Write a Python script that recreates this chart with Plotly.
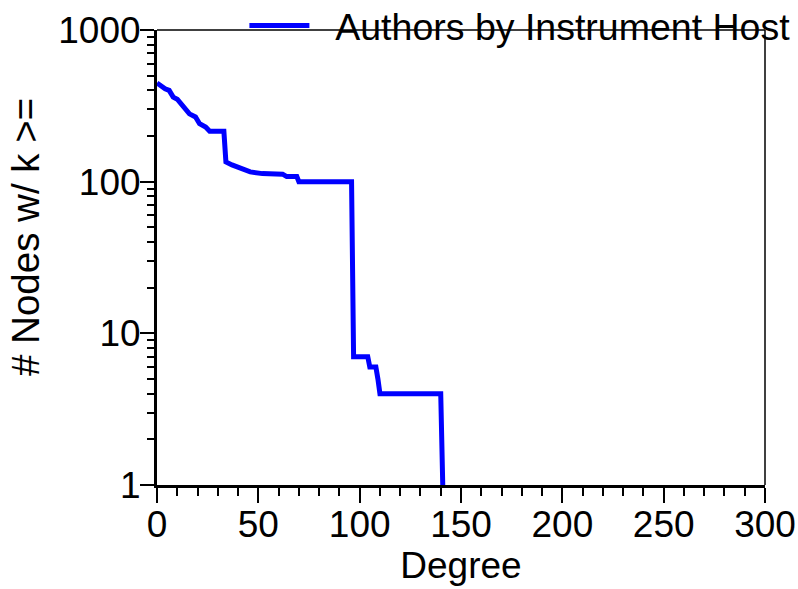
import plotly.graph_objects as go

# Cumulative degree distribution: number of nodes with degree >= k
degree = [0, 2, 4, 6, 8, 10, 12, 14, 16, 19, 21, 24, 26, 33, 34, 37, 41, 46, 52,
          62, 64, 69, 70, 96, 97, 104, 105, 108, 109, 110, 140, 141]
nodes = [447, 427, 410, 400, 361, 350, 326, 295, 280, 267, 241, 229, 215, 215,
         135, 129, 122, 116, 113, 112, 108, 108, 100, 100, 7, 7, 6, 6, 5, 4, 4, 1]

series_name = "Authors by Instrument Host"
x_ticks = [0, 50, 100, 150, 200, 250, 300]
y_ticks = [1, 10, 100, 1000]

FONT = "Liberation Sans, Arial, sans-serif"
FS = 37

fig = go.Figure()
fig.add_trace(go.Scatter(
    x=degree, y=nodes, mode="lines", name="\u00a0\u00a0" + series_name,
    line=dict(color="#0000FF", width=5),
))

fig.update_layout(
    width=798, height=589,
    margin=dict(l=157, r=33, t=30, b=104, autoexpand=False),
    paper_bgcolor="white", plot_bgcolor="white",
    font=dict(family=FONT, size=FS, color="black"),
    showlegend=True,
    legend=dict(
        x=1.05, y=1.078, xanchor="right", yanchor="top",
        bgcolor="rgba(0,0,0,0)", font=dict(size=37.5),
        itemwidth=60,
    ),
)

fig.update_xaxes(
    range=[0, 300], tickvals=x_ticks, ticktext=[str(v) for v in x_ticks],
    showgrid=False, zeroline=False,
    showline=True, linecolor="black", linewidth=3,
    ticks="outside", ticklen=15, tickwidth=2, tickcolor="black",
    minor=dict(ticks="outside", ticklen=8, tickwidth=2, tickcolor="black", dtick=10),
    ticklabelstandoff=-10,
    title=dict(text="Degree", font=dict(size=FS), standoff=2),
    tickfont=dict(size=FS),
)
fig.update_yaxes(
    type="log", range=[0, 3], tickvals=y_ticks, ticktext=[str(v) for v in y_ticks],
    showgrid=False, zeroline=False,
    showline=True, linecolor="black", linewidth=3,
    ticks="outside", ticklen=14, tickwidth=2, tickcolor="black",
    minor=dict(ticks="outside", ticklen=7, tickwidth=2, tickcolor="black", dtick="D1"),
    ticklabelstandoff=-8,
    tickfont=dict(size=FS),
)

# y-axis title, placed as a rotated annotation
fig.add_annotation(
    text="# Nodes w/ k >=", xref="paper", yref="paper",
    x=(25 - 157) / 608, y=(485 - 237) / 455, xanchor="center", yanchor="middle",
    textangle=-90, showarrow=False, font=dict(size=38.5, family=FONT, color="black"),
)

# thin frame on the top and right edges of the plot area
fig.add_shape(type="line", xref="x domain", yref="y domain", x0=0, x1=1, y0=1, y1=1,
              line=dict(color="black", width=1.5), layer="below")
fig.add_shape(type="line", xref="x domain", yref="y domain", x0=1, x1=1, y0=0, y1=1,
              line=dict(color="black", width=1.5), layer="below")

fig.write_html("out.html")
